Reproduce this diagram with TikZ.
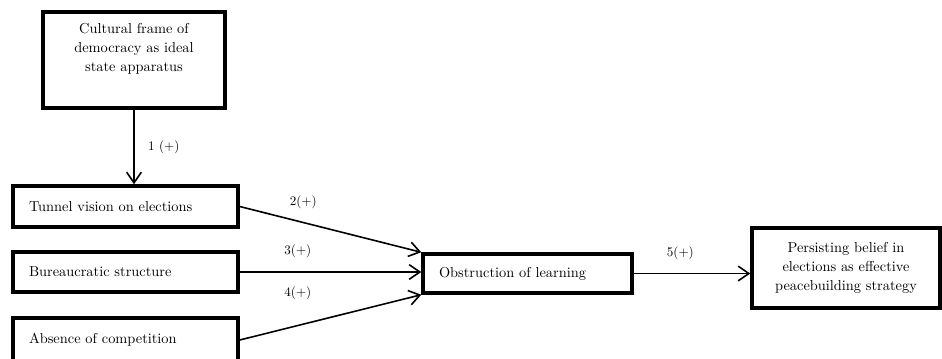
\documentclass[tikz,border=0pt]{standalone}
\usetikzlibrary{positioning}
\usetikzlibrary{arrows.meta}

\begin{document}
\begin{tikzpicture}[
    x=0.75pt,
    y=-0.75pt,
    font=\fontsize{10.8}{14.2}\selectfont,
    factor/.style={draw, line width=2.6pt, align=left, text width=144.75pt,
        inner xsep=12pt, inner ysep=0pt},
    frame/.style={draw, line width=2.6pt, align=center, inner sep=0pt},
    link/.style={line width=1.2pt, -{Straight Barb[length=8pt, width=11pt]}},
    sign/.style={font=\fontsize{9.8}{11}\selectfont, inner sep=1pt}
]
\useasboundingbox (0,0) rectangle (942,358);
\clip (0,0) rectangle (942,358);

% Boxes
\node[frame, minimum width=136.5pt, minimum height=72pt] (culture) at (134,60)
    {Cultural frame of\\democracy as ideal\\state apparatus\\ \strut};
\node[factor, minimum height=30.75pt] (tunnel) at (125.5,206.5)
    {Tunnel vision on elections};
\node[factor, minimum height=30pt] (bureau) at (125.5,272)
    {Bureaucratic structure};
\node[factor, minimum height=33pt] (absence) at (125.5,340)
    {Absence of competition};
\node[frame, align=left, text width=132.75pt, inner xsep=12pt,
    minimum height=29.25pt] (obstruct) at (527.5,273.5)
    {Obstruction of learning};
\node[frame, minimum width=141pt, minimum height=60pt] (belief) at (846,268)
    {Persisting belief in\\elections as effective\\peacebuilding strategy};

% Causal links
\draw[link] (culture.south) -- (culture.south |- tunnel.north)
    node[sign, midway, right=9pt] {1 (+)};
\draw[link] (tunnel.east) -- (obstruct.north west)
    node[sign, pos=0.35, above=9pt] {2(+)};
\draw[link] (bureau.east) -- (bureau.east -| obstruct.west)
    node[sign, pos=0.32, above=9pt] {3(+)};
\draw[link] (absence.east) -- (obstruct.south west)
    node[sign, pos=0.32, above=18pt] {4(+)};
\draw[link] (obstruct.east) -- (obstruct.east -| belief.west)
    node[sign, pos=0.4, above=9pt] {5(+)};
\end{tikzpicture}
\end{document}
